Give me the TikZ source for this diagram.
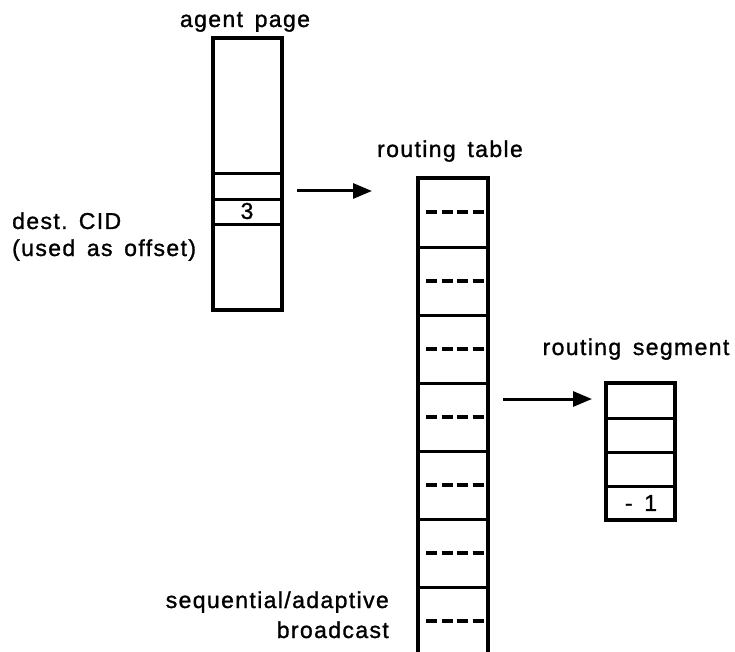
\documentclass[tikz,border=0pt]{standalone}
\usepackage{fontspec}
\setmainfont{Liberation Sans}[LetterSpace=6,WordSpace=1.5,FakeBold=1.2]
\usetikzlibrary{arrows.meta}

\tikzset{
  box/.style={draw, line width=3.2pt},
  rule/.style={line width=3.2pt},
  ptr/.style={line width=3pt, -{Triangle[length=19pt,width=15pt]}},
  nilmark/.style={line width=3.4pt, dash pattern=on 11pt off 4.5pt},
  lbl/.style={inner sep=0pt, font=\fontsize{23}{27}\selectfont},
}

\begin{document}
\begin{tikzpicture}[x=1pt, y=-1pt]
  \useasboundingbox (0,0) rectangle (735,652);

  % agent page
  \node[lbl, anchor=base] (aglbl) at (245,27) {agent page};
  \draw[box] (213,38) rectangle (282,310);
  \draw[rule] (213,173.5) -- (282,173.5);
  \draw[rule] (213,199.5) -- (282,199.5);
  \draw[rule] (213,224.5) -- (282,224.5);
  \node[lbl] (cid) at (247,211) {3};

  \node[lbl, anchor=base west] (dest1) at (12,229) {dest.\hspace{-3pt} CID};
  \node[lbl, anchor=base west] (dest2) at (12,256) {(used as offset)};

  % pointer into the routing table
  \coordinate (p1s) at (297,191);
  \coordinate (p1e) at (372,191);
  \draw[ptr] (p1s) -- (p1e);

  % routing table (runs on past the bottom edge)
  \node[lbl, anchor=base] (rtlbl) at (450,157) {routing table};
  \draw[box] (418,652) -- (418,178) -- (488,178) -- (488,652);
  \foreach \y in {247,315,383,451,519,587} {
    \draw[rule] (418,\y+0.5) -- (488,\y+0.5);
  }
  \foreach \y in {212,281,349,417,485,553,621} {
    \draw[nilmark] (426,\y) -- (484,\y);
  }

  \node[lbl, anchor=base east] (sa1) at (389,608) {sequential/adaptive};
  \node[lbl, anchor=base east] (sa2) at (389,638) {broadcast};

  % pointer into the routing segment
  \coordinate (p2s) at (503,399);
  \coordinate (p2e) at (592,399);
  \draw[ptr] (p2s) -- (p2e);

  % routing segment
  \node[lbl, anchor=base] (rslbl) at (636,355) {routing segment};
  \draw[box] (606,383) rectangle (675,520);
  \draw[rule] (606,418.5) -- (675,418.5);
  \draw[rule] (606,452.5) -- (675,452.5);
  \draw[rule] (606,486.5) -- (675,486.5);
  \node[lbl] (endmark) at (641,503) {- 1};
\end{tikzpicture}
\end{document}
